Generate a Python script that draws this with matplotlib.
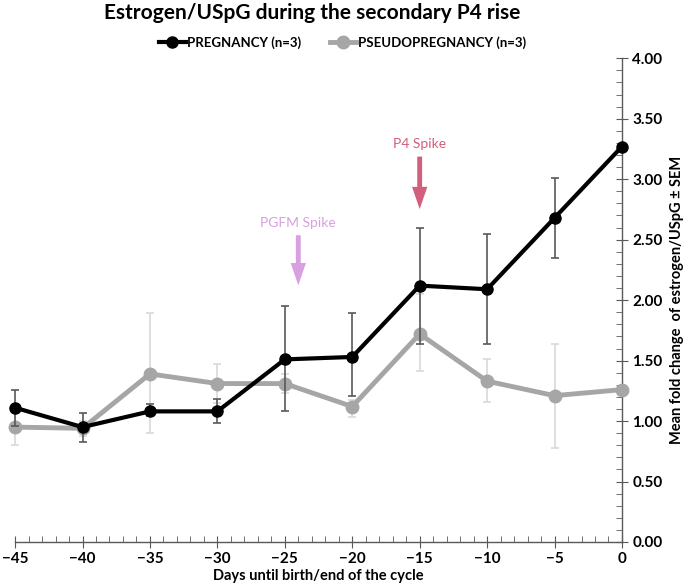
import matplotlib
matplotlib.use("Agg")
import matplotlib.pyplot as plt
from matplotlib.lines import Line2D
from matplotlib.ticker import MultipleLocator, FormatStrFormatter

plt.rcParams["font.family"] = ["Lato", "DejaVu Sans"]

# Data.
days = [-45, -40, -35, -30, -25, -20, -15, -10, -5, 0]

preg = [1.11, 0.95, 1.08, 1.08, 1.51, 1.53, 2.12, 2.09, 2.68, 3.27]
preg_hi = [1.26, 1.07, 1.14, 1.18, 1.95, 1.89, 2.60, 2.55, 3.01, 3.27]
preg_lo = [0.96, 0.83, 1.04, 0.98, 1.08, 1.21, 1.64, 1.64, 2.35, 3.27]

pseudo = [0.95, 0.94, 1.39, 1.31, 1.31, 1.12, 1.72, 1.33, 1.21, 1.26]
pseudo_hi = [1.10, 1.00, 1.89, 1.47, 1.39, 1.17, 2.05, 1.51, 1.64, 1.26]
pseudo_lo = [0.80, 0.88, 0.90, 1.15, 1.23, 1.03, 1.41, 1.16, 0.78, 1.26]

# Spike annotations: (label, day, text y, arrow tip y, colour)
spikes = [
    ("PGFM Spike", -24, 2.56, 2.10, "#d8a0e0"),
    ("P4 Spike", -15, 3.21, 2.73, "#d25f7b"),
]


def main():
    fig = plt.figure(figsize=(6.85, 5.87), dpi=100)
    ax = fig.add_axes([0.022, 0.0767, 0.886, 0.824])

    # Pseudopregnancy first so pregnancy sits on top.
    err_ps = [[v - lo for v, lo in zip(pseudo, pseudo_lo)],
              [hi - v for v, hi in zip(pseudo, pseudo_hi)]]
    ax.errorbar(days, pseudo, yerr=err_ps, color="#a6a6a6", lw=3.5,
                marker="o", ms=9, ecolor="#d9d9d9", elinewidth=1.2,
                capsize=3, capthick=1.2, clip_on=False, zorder=3)

    err_pr = [[v - lo for v, lo in zip(preg, preg_lo)],
              [hi - v for v, hi in zip(preg, preg_hi)]]
    ax.errorbar(days, preg, yerr=err_pr, color="black", lw=3,
                marker="o", ms=8, ecolor="#595959", elinewidth=1.2,
                capsize=3, capthick=1.2, clip_on=False, zorder=4)

    for label, x, y_text, y_tip, col in spikes:
        ax.annotate("", xy=(x, y_tip), xytext=(x, y_text),
                    arrowprops=dict(arrowstyle="simple,head_width=1.1,head_length=1.6,tail_width=0.35",
                                    color=col, lw=0))
        ax.text(x, y_text + 0.03, label, color=col, ha="center", va="bottom",
                fontsize=10)

    ax.set_xlim(-45, 0)
    ax.set_ylim(0, 4)
    ax.spines["left"].set_visible(False)
    ax.spines["top"].set_visible(False)
    for s in ("right", "bottom"):
        ax.spines[s].set_color("#595959")
        ax.spines[s].set_linewidth(1)

    ax.yaxis.tick_right()
    ax.yaxis.set_label_position("right")
    ax.xaxis.set_major_locator(MultipleLocator(5))
    ax.xaxis.set_minor_locator(MultipleLocator(1))
    ax.yaxis.set_major_locator(MultipleLocator(0.5))
    ax.yaxis.set_minor_locator(MultipleLocator(0.1))
    ax.yaxis.set_major_formatter(FormatStrFormatter("%.2f"))
    ax.tick_params(which="major", direction="inout", length=8, color="#595959",
                   labelsize=11)
    ax.tick_params(which="minor", direction="in", length=4, color="#595959")
    for lab in ax.get_xticklabels() + ax.get_yticklabels():
        lab.set_fontweight("bold")

    ax.set_xlabel("Days until birth/end of the cycle", fontsize=10.5,
                  fontweight="bold", labelpad=2)
    ax.set_ylabel("Mean fold change  of estrogen/USpG \u00b1 SEM", fontsize=10.5,
                  fontweight="bold", labelpad=5)

    fig.suptitle("Estrogen/USpG during the secondary P4 rise", x=0.456, y=0.995,
                 fontsize=15, fontweight="bold")

    handles = [
        Line2D([], [], color="black", lw=3, marker="o", ms=8),
        Line2D([], [], color="#a6a6a6", lw=3.5, marker="o", ms=9),
    ]
    labels = ["PREGNANCY (n=3)", "PSEUDOPREGNANCY (n=3)"]
    fig.legend(handles, labels, loc="center", bbox_to_anchor=(0.50, 0.927),
               ncol=2, frameon=False, handlelength=2.0, handletextpad=0.1,
               columnspacing=2.2, prop={"weight": "bold", "size": 9.5})

    fig.savefig("out.png", dpi=100)


if __name__ == "__main__":
    main()
